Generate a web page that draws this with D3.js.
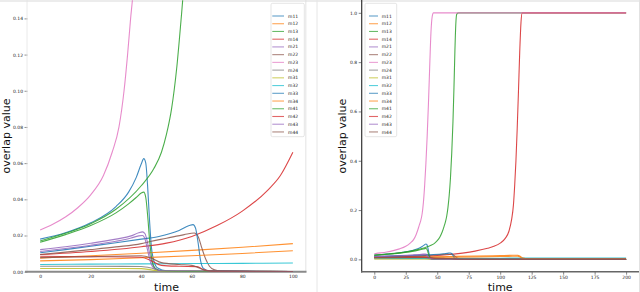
<!DOCTYPE html>
<html>
<head>
<meta charset="utf-8">
<script src="https://cdn.jsdelivr.net/npm/d3@7"></script>
<style>
  html, body { margin: 0; padding: 0; background: #fff; }
  svg { display: block; font-family: "DejaVu Sans", sans-serif; }
</style>
</head>
<body>
<svg id="chart" width="640" height="292"></svg>
<script>
// series names + colours (matplotlib tab10 cycle)
const names = ['m11','m12','m13','m14','m21','m22','m23','m24','m31','m32','m33','m34','m41','m42','m43','m44'];
const colors = ['#1f77b4','#ff7f0e','#2ca02c','#d62728','#9467bd','#8c564b','#e377c2','#7f7f7f',
                '#bcbd22','#17becf','#1f77b4','#ff7f0e','#2ca02c','#d62728','#9467bd','#8c564b'];

// [time, overlap value]
const m11 = [[0,0.018],[10,0.0215],[20,0.027],[30,0.036],[35,0.044],[38,0.052],[40,0.0595],[41,0.0625],[41.8,0.06],[42.5,0.048],[43.3,0.028],[44,0.014],[45,0.006],[46.5,0.002],[50,0.0005],[60,0.0002],[100,0.0001],[200,0.0001]];
const m12 = [[0,0.0075],[20,0.0088],[40,0.0102],[60,0.0118],[80,0.0135],[100,0.0155],[110,0.0165],[114,0.017],[116,0.012],[118,0.005],[122,0.002],[200,0.002]];
const m13 = [[0,0.017],[10,0.0212],[20,0.0265],[30,0.0345],[40,0.0475],[45,0.057],[48,0.066],[50,0.076],[52,0.09],[54,0.112],[55.5,0.135],[56.5,0.152],[57.5,0.175],[58.5,0.21],[59.5,0.26],[60.5,0.33],[61.5,0.43],[62.5,0.56],[63.3,0.7],[64,0.84],[64.7,0.95],[65.5,0.995],[67,1.0],[100,1.0],[200,1.0]];
const m14 = [[0,0.0095],[20,0.0112],[40,0.0138],[50,0.0158],[60,0.0195],[70,0.0255],[80,0.0335],[90,0.045],[95,0.053],[100,0.066],[104,0.085],[107,0.115],[109,0.16],[110.5,0.22],[111.5,0.3],[112.5,0.4],[113.5,0.53],[114.5,0.68],[115.5,0.84],[116.5,0.96],[117.5,1.0],[200,1.0]];
const m21 = [[0,0.0122],[10,0.0138],[20,0.0157],[30,0.018],[36,0.0198],[39,0.0215],[40.5,0.022],[41.5,0.021],[42.5,0.016],[43.5,0.009],[44.5,0.004],[46,0.0012],[50,0.0003],[100,0.0001],[200,0.0001]];
const m22 = [[0,0.0095],[10,0.0108],[20,0.0122],[30,0.0137],[40,0.0155],[43.5,0.0167],[50,0.0185],[57,0.0205],[61,0.0214],[62.5,0.0195],[64,0.013],[65.5,0.007],[67,0.003],[69,0.001],[72,0.0003],[100,0.0001],[200,0.0001]];
const m23 = [[0,0.023],[5,0.0262],[10,0.0302],[15,0.0355],[20,0.0425],[25,0.053],[28.5,0.066],[31.2,0.08],[33.2,0.1],[34.6,0.12],[35.8,0.14],[36.8,0.155],[38,0.185],[39,0.23],[40,0.3],[41,0.39],[42,0.5],[43,0.63],[44,0.78],[45,0.92],[46,0.985],[47,1.0],[100,1.0],[200,1.0]];
const m24 = [[0,0.003],[20,0.003],[40,0.0029],[44,0.002],[47,0.0008],[50,0.0002],[100,0.0001],[200,0.0001]];
const m31 = [[0,0.0018],[20,0.0018],[40,0.0017],[44,0.001],[48,0.0003],[100,0.0001],[200,0.0001]];
const m32 = [[0,0.004],[20,0.0042],[40,0.0043],[60,0.0045],[80,0.0046],[100,0.0048],[120,0.005],[150,0.0052],[200,0.0055]];
const m33 = [[0,0.0105],[10,0.0122],[20,0.0141],[30,0.016],[40,0.018],[47,0.0195],[55,0.0228],[59,0.0255],[60.5,0.026],[61.5,0.024],[62.5,0.016],[63.5,0.006],[64.5,0.002],[67,0.0005],[100,0.0001],[200,0.0001]];
const m34 = [[0,0.006],[20,0.0067],[40,0.0077],[60,0.0088],[80,0.0101],[100,0.0116],[110,0.0125],[114,0.013],[116,0.009],[118,0.004],[122,0.002],[200,0.002]];
const m41 = [[0,0.0163],[10,0.0205],[20,0.0255],[30,0.0325],[35,0.0375],[38,0.041],[40,0.0435],[41,0.044],[41.8,0.041],[42.6,0.03],[43.4,0.016],[44.2,0.007],[45.5,0.002],[48,0.0005],[60,0.0002],[100,0.0001],[200,0.0001]];
const m42 = [[0,0.0085],[20,0.0083],[40,0.008],[44,0.006],[48,0.0035],[55,0.003],[62,0.0028],[65,0.001],[68,0.0002],[100,0.0001],[200,0.0001]];
const m43 = [[0,0.0112],[10,0.0128],[20,0.0146],[30,0.0168],[36,0.0186],[39,0.0198],[40.5,0.02],[41.5,0.018],[42.5,0.012],[43.5,0.006],[45,0.002],[48,0.0005],[100,0.0001],[200,0.0001]];
const m44 = [[0,0.0078],[20,0.0083],[40,0.0088],[44,0.0075],[48,0.005],[55,0.004],[60,0.0035],[63,0.002],[66,0.0005],[100,0.0001],[200,0.0001]];
const seriesData = [m11,m12,m13,m14,m21,m22,m23,m24,m31,m32,m33,m34,m41,m42,m43,m44];

// tick labels
const leftXTicks = [0,20,40,60,80,100];
const leftYTicks = [0,0.02,0.04,0.06,0.08,0.10,0.12,0.14];
const rightXTicks = [0,25,50,75,100,125,150,175,200];
const rightYTicks = [0,0.2,0.4,0.6,0.8,1.0];

const svg = d3.select('#chart');
const FS = 4.5;

// figure frame bits
svg.append('rect').attr('x',0).attr('y',0).attr('width',640).attr('height',2).attr('fill','#ececec');
svg.append('line').attr('x1',317).attr('x2',317).attr('y1',0).attr('y2',292).attr('stroke','#e6e6e6');
svg.append('line').attr('x1',639.5).attr('x2',639.5).attr('y1',0).attr('y2',292).attr('stroke','#e2e2e2');

function panel(opt) {
  const x = d3.scaleLinear().domain(opt.xdom).range(opt.xr);
  const y = d3.scaleLinear().domain(opt.ydom).range(opt.yr);
  const g = svg.append('g');
  const clipId = 'clip-' + opt.id;
  g.append('clipPath').attr('id', clipId).append('rect')
    .attr('x', opt.xr[0]).attr('y', opt.yr[1]).attr('width', opt.xr[1]-opt.xr[0]).attr('height', opt.yr[0]-opt.yr[1]);

  // y axis
  const ya = g.append('g').attr('transform','translate(' + opt.xr[0] + ',0)')
    .call(d3.axisLeft(y).tickValues(opt.yticks).tickFormat(d3.format(opt.yfmt)).tickSize(3).tickPadding(1.5));
  ya.select('.domain').remove();
  ya.selectAll('line').attr('stroke', opt.tickColor).attr('stroke-width',0.6);
  ya.selectAll('text').attr('font-size',FS).attr('font-family','DejaVu Sans').attr('fill','#222');

  const xa = g.append('g').attr('transform','translate(0,' + opt.yr[0] + ')')
    .call(d3.axisBottom(x).tickValues(opt.xticks).tickSize(opt.xTickSize).tickPadding(opt.xTickPad));
  xa.select('.domain').remove();
  xa.selectAll('line').attr('stroke', opt.tickColor).attr('stroke-width',0.6);
  xa.selectAll('text').attr('font-size',FS).attr('font-family','DejaVu Sans').attr('fill','#222');

  // spines
  opt.spines.forEach(function (s) {
    g.append('line').attr('x1',s[0]).attr('y1',s[1]).attr('x2',s[2]).attr('y2',s[3])
      .attr('stroke',s[4]).attr('stroke-width',s[5]);
  });

  // lines
  const line = d3.line().x(function (d){ return x(d[0]); }).y(function (d){ return y(d[1]); }).curve(d3.curveMonotoneX);
  const lg = g.append('g').attr('clip-path','url(#' + clipId + ')');
  seriesData.forEach(function (s, i) {
    lg.append('path').datum(cutAt(s, opt.tmax)).attr('d', line)
      .attr('fill','none').attr('stroke', colors[i]).attr('stroke-width',1.1).attr('stroke-opacity',0.85);
  });

  // axis labels
  g.append('text').attr('transform','translate(' + opt.ylabX + ',' + ((opt.yr[0]+opt.yr[1])/2) + ') rotate(-90)')
    .attr('text-anchor','middle').attr('font-size',11).attr('fill','#111').text('overlap value');
  g.append('text').attr('x',(opt.xr[0]+opt.xr[1])/2).attr('y',290.5)
    .attr('text-anchor','middle').attr('font-size',11).attr('fill','#111').text('time');

  // legend
  const L = opt.legend;
  g.append('rect').attr('x',L.x).attr('y',L.y).attr('width',L.w).attr('height',L.h).attr('rx',1.5)
    .attr('fill','#fff').attr('fill-opacity',0.85).attr('stroke','#d4d4d4').attr('stroke-width',0.6);
  names.forEach(function (n, i) {
    const yy = L.y + 12.7 + i * 7.73;
    g.append('line').attr('x1',L.lx0).attr('x2',L.lx1).attr('y1',yy).attr('y2',yy)
      .attr('stroke',colors[i]).attr('stroke-width',1.1).attr('stroke-opacity',0.7);
    g.append('text').attr('x',L.tx).attr('y',yy).attr('dy','0.35em')
      .attr('font-size',FS).attr('fill','#222').text(n);
  });
}

// trim a series at tmax, interpolating the end point
function cutAt(s, tmax) {
  const out = [];
  for (let i = 0; i < s.length; i++) {
    if (s[i][0] <= tmax) out.push(s[i]);
    else {
      const a = s[i-1], b = s[i];
      if (a[0] < tmax) out.push([tmax, a[1] + (b[1]-a[1]) * (tmax-a[0]) / (b[0]-a[0])]);
      break;
    }
  }
  return out;
}

panel({
  id:'left', xdom:[-5,105], xr:[27.5,305.5], ydom:[0,0.15], yr:[271.7,0.3], tmax:100,
  xticks:leftXTicks, yticks:leftYTicks, yfmt:'.2f', xTickSize:0, xTickPad:3.5, tickColor:'#444',
  spines:[[27,0,27,272,'#e4e4e4',0.8],[305.8,0,305.8,272,'#dcdcdc',0.8],[25,271.8,306.5,271.8,'#8a8a8a',2]],
  ylabX:9.5,
  legend:{x:271,y:3.3,w:33.3,h:133.4,lx0:272.3,lx1:284,tx:288}
});

panel({
  id:'right', xdom:[-10,210], xr:[361.7,638.7], ydom:[-0.05,1.05], yr:[271.7,0.5], tmax:200,
  xticks:rightXTicks, yticks:rightYTicks, yfmt:'.1f', xTickSize:3, xTickPad:1.5, tickColor:'#333',
  spines:[[361.7,0,361.7,272.5,'#333',1.2],[361,271.8,639,271.8,'#666',1.5]],
  ylabX:345.5,
  legend:{x:365,y:3.3,w:31.7,h:133.4,lx0:369,lx1:378,tx:381.7}
});
</script>
</body>
</html>
